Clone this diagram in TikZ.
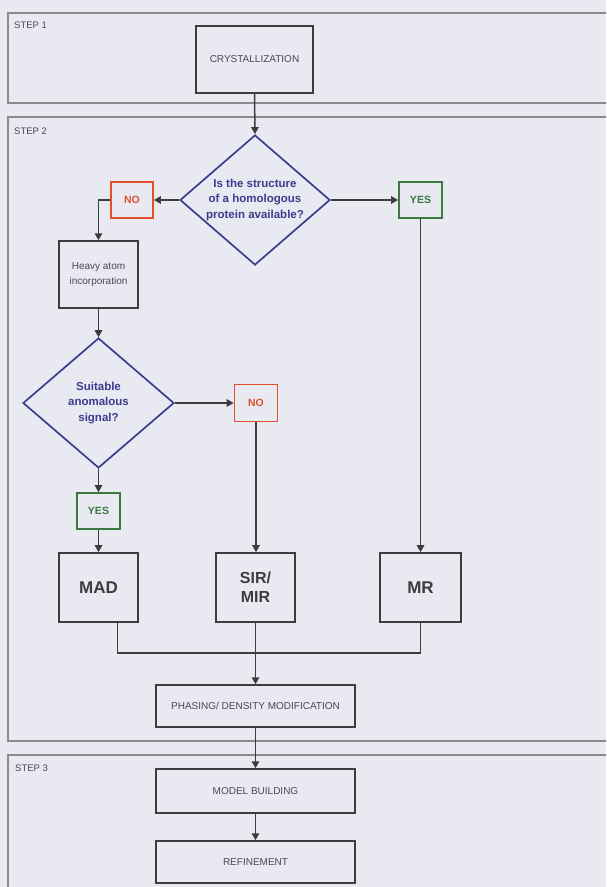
\documentclass[tikz,border=0pt]{standalone}
\usepackage{fontspec}
\setmainfont{Liberation Sans}
\usetikzlibrary{arrows.meta,shapes.geometric}
\definecolor{bg}{HTML}{E9E9F1}
\definecolor{framec}{HTML}{8C8A90}
\definecolor{boxc}{HTML}{3E3C42}
\definecolor{diac}{HTML}{3C3C8E}
\definecolor{noc}{HTML}{E0502E}
\definecolor{yesc}{HTML}{3C7840}
\definecolor{txtc}{HTML}{4A4850}
\tikzset{
  frame/.style={draw=framec, line width=1.2pt},
  steplabel/.style={anchor=north west, inner sep=0pt, font=\fontsize{9.5}{11}\selectfont, text=txtc},
  plainbox/.style={draw=boxc, line width=1.5pt, inner sep=0pt, font=\fontsize{10}{12}\selectfont, text=txtc, align=center},
  bigbox/.style={draw=boxc, line width=1.7pt, inner sep=0pt, font=\fontsize{17}{20}\selectfont\bfseries, text=boxc, align=center},
  decide/.style={draw=diac, line width=1.7pt, diamond, aspect=1.154, inner sep=0pt, minimum width=150pt, minimum height=130pt, text=diac, align=center, font=\fontsize{11.5}{15.5}\selectfont\bfseries},
  nobox/.style={draw=noc, line width=1.7pt, inner sep=0pt, minimum width=42pt, minimum height=36pt, text=noc, font=\fontsize{10.5}{12}\selectfont\bfseries},
  yesbox/.style={draw=yesc, line width=1.7pt, inner sep=0pt, minimum width=43pt, minimum height=36pt, text=yesc, font=\fontsize{10.5}{12}\selectfont\bfseries},
  conn/.style={draw=boxc, line width=1.5pt},
  arr/.style={conn, -{Triangle[width=7.5pt,length=7pt]}},
}
\begin{document}
\begin{tikzpicture}[x=1pt,y=-1pt]
\fill[bg] (0,0) rectangle (606,887);
\useasboundingbox (0,0) rectangle (606,887);
\clip (0,0) rectangle (606,887);
% frames
\draw[frame] (630,13) -- (8,13) -- (8,103) -- (630,103);
\draw[frame] (630,117) -- (8,117) -- (8,741) -- (630,741);
\draw[frame] (630,755) -- (8,755) -- (8,900);
\node[steplabel] (s1) at (14,22) {STEP 1};
\node[steplabel] (s2) at (14,128) {STEP 2};
\node[steplabel] (s3) at (15,765) {STEP 3};
% nodes
\node[plainbox, minimum width=117pt, minimum height=67pt] (cry) at (254.5,59.5) {CRYSTALLIZATION};
\node[decide] (d1) at (255,200) {Is the structure\\of a homologous\\protein available?};
\node[nobox] (no1) at (132,200) {NO};
\node[yesbox] (yes1) at (420.5,200) {YES};
\node[plainbox, minimum width=79pt, minimum height=67pt, font=\fontsize{10}{15.5}\selectfont] (heavy) at (98.5,274.5) {Heavy atom\\incorporation};
\node[decide, minimum width=151pt] (d2) at (98.5,403) {Suitable\\anomalous\\signal?};
\node[nobox, minimum width=43pt, minimum height=37pt] (no2) at (256,403) {NO};
\node[yesbox] (yes2) at (98.5,511) {YES};
\node[bigbox, minimum width=79pt, minimum height=69pt] (mad) at (98.5,587.5) {MAD};
\node[bigbox, minimum width=79pt, minimum height=69pt, font=\fontsize{16}{19}\selectfont\bfseries] (sir) at (255.5,587.5) {SIR/\\MIR};
\node[bigbox, minimum width=81pt, minimum height=69pt] (mr) at (420.5,587.5) {MR};
\node[plainbox, minimum width=199pt, minimum height=42pt] (phase) at (255.5,706) {PHASING/ DENSITY MODIFICATION};
\node[plainbox, minimum width=199pt, minimum height=44pt] (model) at (255.5,791) {MODEL BUILDING};
\node[plainbox, minimum width=199pt, minimum height=42pt] (refine) at (255.5,862) {REFINEMENT};
\coordinate (mj) at (255,653);
% connectors
\draw[arr] (cry.south) -- (d1.north);
\draw[arr] (d1.west) -- (no1.east);
\draw[arr] (d1.east) -- (yes1.west);
\draw[arr] (no1.west) -- (no1.west -| heavy.north) -- (heavy.north);
\draw[arr] (heavy.south) -- (d2.north);
\draw[arr] (d2.east) -- (no2.west);
\draw[arr] (d2.south) -- (yes2.north);
\draw[arr] (yes2.south) -- (mad.north);
\draw[arr] (no2.south) -- (no2.south |- sir.north);
\draw[arr] (yes1.south) -- (mr.north);
\draw[conn] ([xshift=19pt]mad.south) -- ([xshift=19pt]mad.south |- mj) -- (mr.south |- mj) -- (mr.south);
\draw[arr] (sir.south) -- (phase.north);
\draw[arr] (phase.south) -- (model.north);
\draw[arr] (model.south) -- (refine.north);
\end{tikzpicture}
\end{document}
